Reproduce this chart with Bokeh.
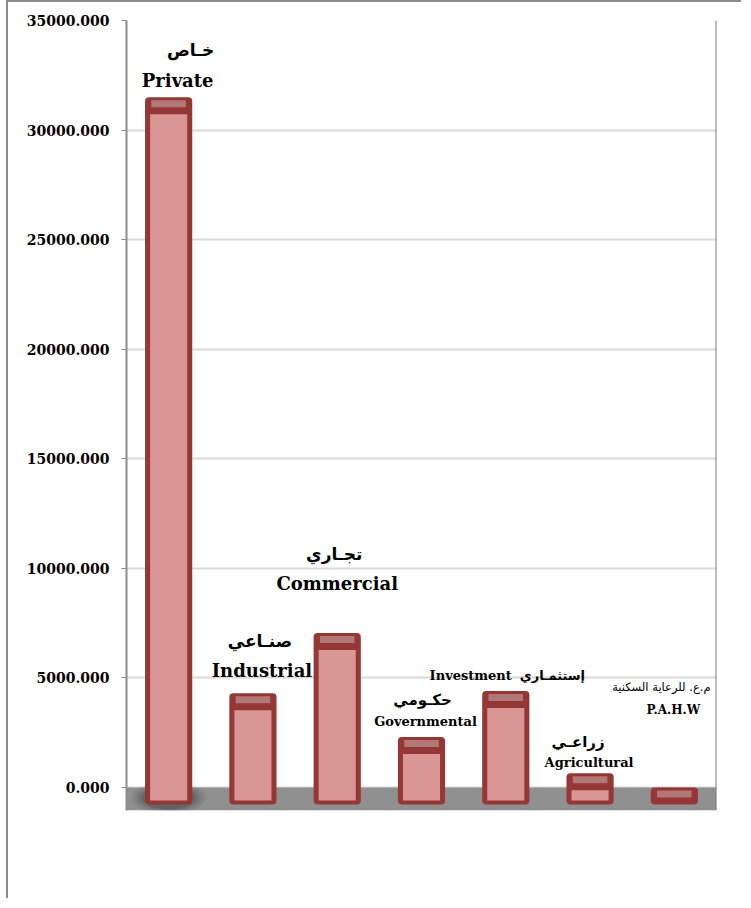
from bokeh.plotting import figure
from bokeh.models import FixedTicker, PrintfTickFormatter, BoxAnnotation, Span, Range1d, ColumnDataSource
from bokeh.core.properties import value
from bokeh.embed import file_html
from bokeh.resources import INLINE

# ---- data ----
categories = ["Private", "Industrial", "Commercial", "Governmental", "Investment", "Agricultural", "P.A.H.W"]
values = [31500, 4300, 7050, 2300, 4400, 650, 0]
labels_en = ["Private", "Industrial", "Commercial", "Governmental", "Investment", "Agricultural", "P.A.H.W"]
labels_ar = ["خـاص", "صنـاعي", "تجـاري", "حكـومي", "إستثمـاري", "زراعـي", "م.ع. للرعاية السكنية"]
y_ticks = [0, 5000, 10000, 15000, 20000, 25000, 30000, 35000]

# ---- styling ----
DARK = "#953735"
PINK = "#DA9694"
STRIP = "#B27878"
PX = 35000 / 767.0          # data units per screen pixel
DEPTH = 17 * PX             # 3D depth offset of the bars
FLOOR_BOTTOM = -23 * PX

p = figure(x_range=categories, y_range=Range1d(FLOOR_BOTTOM, 35000),
           width=735, height=898, output_backend="svg", toolbar_location=None,
           min_border_left=118, min_border_right=27, min_border_top=18, min_border_bottom=90)
p.styles = {"border-top": "2px solid #8c8c8c", "border-left": "2px solid #8c8c8c",
            "margin-left": "6px", "margin-top": "0px"}
p.background_fill_color = "white"
p.border_fill_color = "white"
p.outline_line_color = None

p.xaxis.visible = False
p.xgrid.grid_line_color = None
p.ygrid.grid_line_color = "#d9d9d9"
p.ygrid.grid_line_width = 2

ax = p.yaxis[0]
ax.ticker = FixedTicker(ticks=y_ticks)
ax.formatter = PrintfTickFormatter(format="%.3f")
ax.major_label_text_font = "DejaVu Serif"
ax.major_label_text_font_style = "bold"
ax.major_label_text_font_size = "14px"
ax.major_label_text_color = "black"
ax.major_label_standoff = 12
ax.axis_line_color = "#8c8c8c"
ax.axis_line_width = 2
ax.major_tick_line_color = "#8c8c8c"
ax.major_tick_out = 5
ax.major_tick_in = 0
ax.minor_tick_line_color = None

# floor
floor = BoxAnnotation(bottom=FLOOR_BOTTOM, top=0, fill_color="#909090", fill_alpha=1.0,
                      line_color=None, level="underlay")
p.add_layout(floor)
p.add_layout(Span(location=7, dimension="height", line_color="#7f7f7f", line_width=2))

# soft shadow under the tall bar
for w, a in [(0.90, 0.05), (0.82, 0.06), (0.75, 0.07), (0.68, 0.08), (0.62, 0.09)]:
    p.ellipse(x=[categories[0]], y=[-480], width=w, height=w * 36 * PX, fill_color="black",
              fill_alpha=a, line_color=None)

# bars
bottom = -DEPTH
p.vbar(x=categories, top=values, bottom=bottom, width=0.56, fill_color=DARK,
       line_color=None, border_radius=4)
body_x, body_top = [], []
for c, v in zip(categories, values):
    t = v - DEPTH
    if t > bottom + 5 * PX:
        body_x.append(c)
        body_top.append(t)
p.vbar(x=body_x, top=body_top, bottom=bottom + 4 * PX, width=0.44, fill_color=PINK, line_color=None)
p.vbar(x=categories, top=[v - 3 * PX for v in values], bottom=[v - 10 * PX for v in values],
       width=0.41, fill_color=STRIP, line_color=None)

# labels (offsets in px relative to bar top)
en_dx = [9, 9, 0, 4, None, -1, -1]
en_dy = [-17, -23, -50, -16, None, -11, -78]
en_size = ["18px", "18px", "18px", "13px", None, "13px", "12px"]
ar_dx = [22, 7, -3, 1, None, -12, None]
ar_dy = [-47, -52, -79, -37, None, -31, None]
ar_size = ["17px", "17px", "17px", "15px", None, "15px", None]

idx = [i for i in range(len(categories)) if en_dx[i] is not None]
src_en = ColumnDataSource(dict(x=[categories[i] for i in idx], y=[values[i] for i in idx],
                               t=[labels_en[i] for i in idx], dx=[en_dx[i] for i in idx],
                               dy=[en_dy[i] for i in idx], s=[en_size[i] for i in idx]))
p.text(x="x", y="y", text="t", x_offset="dx", y_offset="dy", text_font_size="s",
       text_font=value("DejaVu Serif"), text_font_style="bold", text_align="center",
       text_baseline="middle", text_color="black", source=src_en)
ida = [i for i in range(len(categories)) if ar_dx[i] is not None]
src_ar = ColumnDataSource(dict(x=[categories[i] for i in ida], y=[values[i] for i in ida],
                               t=[labels_ar[i] for i in ida], dx=[ar_dx[i] for i in ida],
                               dy=[ar_dy[i] for i in ida], s=[ar_size[i] for i in ida]))
p.text(x="x", y="y", text="t", x_offset="dx", y_offset="dy", text_font_size="s",
       text_font=value("DejaVu Sans"), text_font_style="bold", text_align="center",
       text_baseline="middle", text_color="black", source=src_ar)

# P.A.H.W Arabic label (smaller, regular weight)
k = 6
p.text(x=[categories[k]], y=[values[k]], text=[labels_ar[k]], x_offset=-13, y_offset=-101,
       text_font_size="11.5px", text_font=value("DejaVu Sans"),
       text_align="center", text_baseline="middle", text_color="black")

# Investment label: English + Arabic on one line
k = 4
p.text(x=[categories[k]], y=[values[k]], text=[labels_en[k]], x_offset=6, y_offset=-16,
       text_font_size="13px", text_font=value("DejaVu Serif"), text_font_style="bold",
       text_align="right", text_baseline="middle", text_color="black")
p.text(x=[categories[k]], y=[values[k]], text=[labels_ar[k]], x_offset=14, y_offset=-16,
       text_font_size="13px", text_font=value("DejaVu Sans"), text_font_style="bold",
       text_align="left", text_baseline="middle", text_color="black")

open("out.html", "w").write(file_html(p, INLINE))
